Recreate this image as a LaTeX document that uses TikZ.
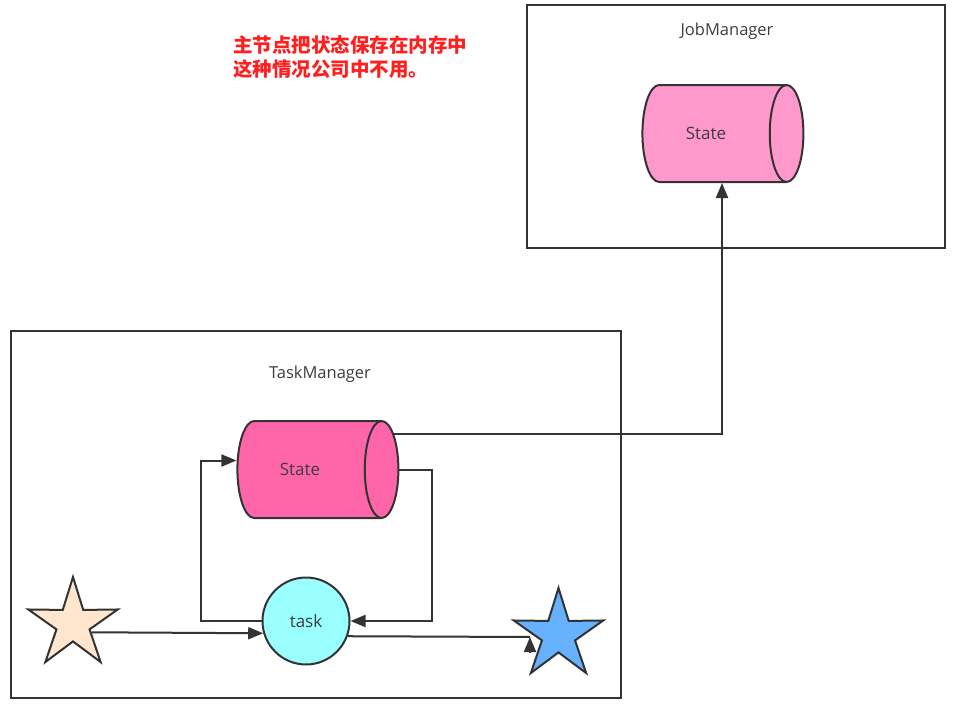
\documentclass[tikz,border=0pt]{standalone}
\usepackage{fontspec}
\setmainfont{Open Sans}
\newfontfamily\cjk{Noto Sans CJK SC}
\usetikzlibrary{shapes.geometric,arrows.meta}
\definecolor{linegray}{HTML}{333333}
\definecolor{textgray}{HTML}{3D3D3D}
\definecolor{notered}{HTML}{FF1F1F}
\definecolor{jmpink}{HTML}{FF99CC}
\definecolor{tmpink}{HTML}{FF66AA}
\definecolor{taskcyan}{HTML}{99FFFF}
\definecolor{peach}{HTML}{FFE6CC}
\definecolor{skyblue}{HTML}{66B2FF}

\begin{document}
\begin{tikzpicture}[x=1pt,y=-1pt,
  box/.style={draw=linegray, line width=2pt, rectangle, inner sep=0pt},
  title/.style={text=textgray, font=\fontsize{16.5}{20}\selectfont},
  tank/.style={cylinder, draw=linegray, line width=2pt, aspect=2.7,
    minimum height=161pt, minimum width=97pt, inner sep=0pt,
    text=textgray, font=\fontsize{17}{20}\selectfont},
  fivestar/.style={star, star points=5, star point ratio=2.7, draw=linegray,
    line width=2pt, minimum size=94pt, inner sep=0pt},
  conn/.style={draw=linegray, line width=2pt, -{Triangle[length=15pt,width=12pt]}},
  plain/.style={draw=linegray, line width=2pt}]
\useasboundingbox (0,0) rectangle (958,707);

% note
\node[text=notered, anchor=west, align=left, inner sep=0pt,
  font=\cjk\bfseries\fontsize{19.5}{24}\selectfont] (note) at (233,57)
  {主节点把状态保存在内存中\\这种情况公司中不用。};

% JobManager
\node[box, minimum width=418pt, minimum height=243pt] (jm) at (736,126.5) {};
\node[title] (jmtitle) at (727,31) {JobManager};
\node[tank, fill=jmpink] (jmstate) at (714,133.5) {State\hspace*{16pt}};

% TaskManager
\node[box, minimum width=610pt, minimum height=367pt] (tm) at (316,514.5) {};
\node[title] (tmtitle) at (320,374) {TaskManager};
\node[tank, fill=tmpink] (tmstate) at (309,469.5) {State\hspace*{18pt}};
\node[circle, draw=linegray, line width=2pt, fill=taskcyan, minimum size=87pt,
  inner sep=0pt, text=textgray, font=\fontsize{17}{20}\selectfont] (task) at (306,621) {task};
\node[fivestar, fill=peach] (lstar) at (73,624) {};
\node[fivestar, fill=skyblue] (rstar) at (558.5,635) {};

% connectors
\draw[conn] (lstar.-24) -- (task.196);
\draw[conn] (task.west) -- ++(-61,0) |- ([yshift=9pt]tmstate.west);
\draw[conn] (tmstate.east) -- ++(33,0) |- (task.east);
\draw[conn] (tmstate.23) -| ([xshift=8pt]jmstate.south);
\coordinate (rtip) at (530,637);
\draw[plain] (task.-20) -- (rtip);
\draw[conn] ([yshift=-15pt]rtip) -- (rtip);
\end{tikzpicture}
\end{document}
